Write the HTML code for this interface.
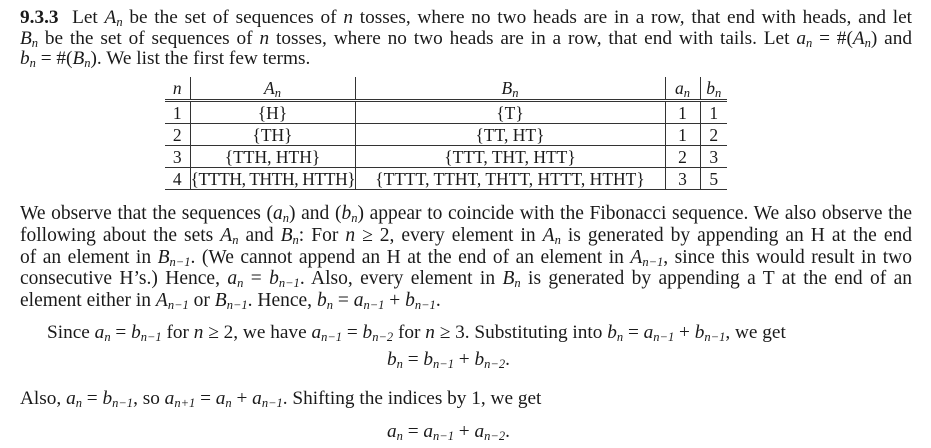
<!DOCTYPE html>
<html><head><meta charset="utf-8"><style>
body{margin:0;width:931px;height:448px;background:#fff;position:relative;overflow:hidden;font-family:"Liberation Serif",serif;color:#1a1a1a;font-size:19.3px}
.l{position:absolute;left:20px;width:892px;white-space:nowrap;text-align:justify;text-align-last:justify;line-height:20px}
.p{font-size:19.5px}
.n{text-align:left;text-align-last:auto}
i{font-style:italic}
sub{font-size:12.5px;vertical-align:-3px;line-height:0}
table{position:absolute;left:165px;top:77px;border-collapse:collapse;font-size:17.5px;white-space:nowrap;table-layout:fixed;width:562px}
td{padding:0;height:21px;line-height:20px;text-align:center;overflow:visible}
.t{letter-spacing:-0.4px}
</style></head><body>
<div class="l" style="top:8px"><b>9.3.3</b>&nbsp; Let <i>A<sub>n</sub></i> be the set of sequences of <i>n</i> tosses, where no two heads are in a row, that end with heads, and let</div>
<div class="l" style="top:29px"><i>B<sub>n</sub></i> be the set of sequences of <i>n</i> tosses, where no two heads are in a row, that end with tails. Let <i>a<sub>n</sub></i> = #(<i>A<sub>n</sub></i>) and</div>
<div class="l n" style="top:49px"><i>b<sub>n</sub></i> = #(<i>B<sub>n</sub></i>). We list the first few terms.</div>

<table>
<colgroup><col style="width:25px"><col style="width:165px"><col style="width:310px"><col style="width:35px"><col style="width:27px"></colgroup>
<tr style="border-bottom:3px double #333"><td style="border-right:1px solid #333;height:22px"><i>n</i></td><td style="border-right:1px solid #333"><i>A<sub>n</sub></i></td><td style="border-right:1px solid #333"><i>B<sub>n</sub></i></td><td style="border-right:1px solid #333"><i>a<sub>n</sub></i></td><td><i>b<sub>n</sub></i></td></tr>
<tr style="border-bottom:1px solid #333"><td style="border-right:1px solid #333">1</td><td style="border-right:1px solid #333">{H}</td><td style="border-right:1px solid #333">{T}</td><td style="border-right:1px solid #333">1</td><td>1</td></tr>
<tr style="border-bottom:1px solid #333"><td style="border-right:1px solid #333">2</td><td style="border-right:1px solid #333">{TH}</td><td style="border-right:1px solid #333">{TT, HT}</td><td style="border-right:1px solid #333">1</td><td>2</td></tr>
<tr style="border-bottom:1px solid #333"><td style="border-right:1px solid #333">3</td><td style="border-right:1px solid #333">{TTH, HTH}</td><td style="border-right:1px solid #333">{TTT, THT, HTT}</td><td style="border-right:1px solid #333">2</td><td>3</td></tr>
<tr style="border-bottom:1px solid #333"><td style="border-right:1px solid #333">4</td><td class="t" style="border-right:1px solid #333">{TTTH, THTH, HTTH}</td><td style="border-right:1px solid #333">{TTTT, TTHT, THTT, HTTT, HTHT}</td><td style="border-right:1px solid #333">3</td><td>5</td></tr>
</table>

<div class="l p" style="top:204px">We observe that the sequences (<i>a<sub>n</sub></i>) and (<i>b<sub>n</sub></i>) appear to coincide with the Fibonacci sequence. We also observe the</div>
<div class="l p" style="top:226px">following about the sets <i>A<sub>n</sub></i> and <i>B<sub>n</sub></i>: For <i>n</i> ≥ 2, every element in <i>A<sub>n</sub></i> is generated by appending an H at the end</div>
<div class="l p" style="top:248px">of an element in <i>B<sub>n−1</sub></i>. (We cannot append an H at the end of an element in <i>A<sub>n−1</sub></i>, since this would result in two</div>
<div class="l p" style="top:269px">consecutive H’s.) Hence, <i>a<sub>n</sub></i> = <i>b<sub>n−1</sub></i>. Also, every element in <i>B<sub>n</sub></i> is generated by appending a T at the end of an</div>
<div class="l p n" style="top:291px">element either in <i>A<sub>n−1</sub></i> or <i>B<sub>n−1</sub></i>. Hence, <i>b<sub>n</sub></i> = <i>a<sub>n−1</sub></i> + <i>b<sub>n−1</sub></i>.</div>
<div class="l n" style="top:323px;left:47px">Since <i>a<sub>n</sub></i> = <i>b<sub>n−1</sub></i> for <i>n</i> ≥ 2, we have <i>a<sub>n−1</sub></i> = <i>b<sub>n−2</sub></i> for <i>n</i> ≥ 3. Substituting into <i>b<sub>n</sub></i> = <i>a<sub>n−1</sub></i> + <i>b<sub>n−1</sub></i>, we get</div>
<div class="l n" style="top:350px;left:387px"><i>b<sub>n</sub></i> = <i>b<sub>n−1</sub></i> + <i>b<sub>n−2</sub></i>.</div>
<div class="l n" style="top:389px">Also, <i>a<sub>n</sub></i> = <i>b<sub>n−1</sub></i>, so <i>a<sub>n+1</sub></i> = <i>a<sub>n</sub></i> + <i>a<sub>n−1</sub></i>. Shifting the indices by 1, we get</div>
<div class="l n" style="top:422px;left:387px"><i>a<sub>n</sub></i> = <i>a<sub>n−1</sub></i> + <i>a<sub>n−2</sub></i>.</div>
</body></html>
